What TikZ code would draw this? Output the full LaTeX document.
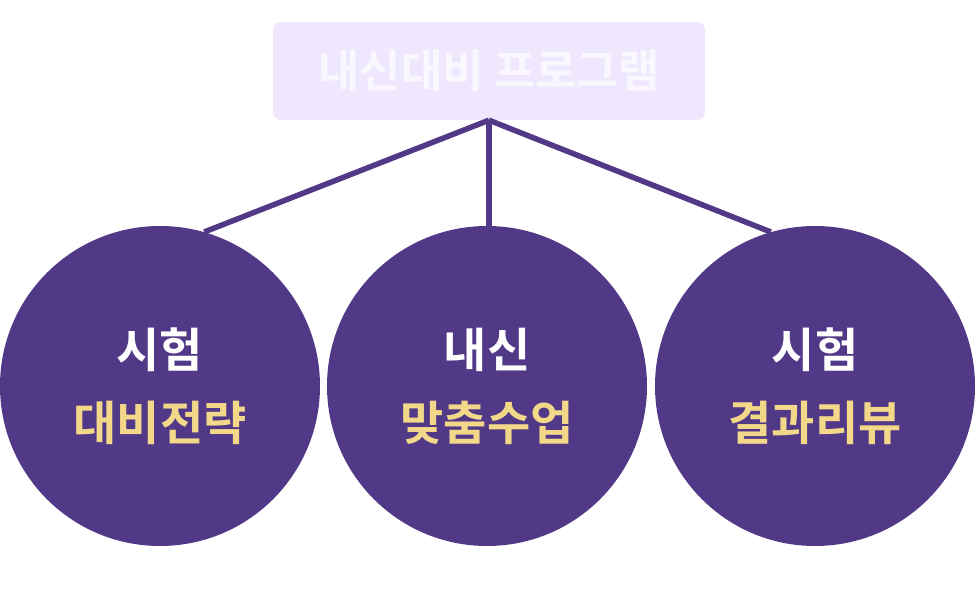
\documentclass[tikz,border=0pt]{standalone}
\usepackage{fontspec}
\setmainfont{Noto Sans CJK KR}[BoldFont={* Bold}]
\usepackage{tikz}

\definecolor{deeppurple}{HTML}{523987}
\definecolor{lavender}{HTML}{EFE7FD}
\definecolor{paleink}{HTML}{FAF8FF}
\definecolor{gold}{HTML}{F2D888}

\tikzset{
  topic/.style={circle, fill=deeppurple, minimum size=320pt, inner sep=0pt,
    align=center, font=\bfseries\fontsize{47}{73}\selectfont},
  branch/.style={deeppurple, line width=5.5pt}
}

\begin{document}
\begin{tikzpicture}[x=1pt, y=-1pt]
					\useasboundingbox (0,0) rectangle (975,594);
					
					% Top box
					\node[fill=lavender, rounded corners=8pt, minimum width=432pt, minimum height=98pt,
					  text=paleink, font=\bfseries\fontsize{45}{52}\selectfont] (prog) at (489,71) {내신대비 프로그램};
					
					% Circles
					\node[topic] (c1) at (160,386) {\textcolor{white}{시험}\\\textcolor{gold}{대비전략}};
					\node[topic] (c2) at (487,386) {\textcolor{white}{내신}\\\textcolor{gold}{맞춤수업}};
					\node[topic] (c3) at (815,386) {\textcolor{white}{시험}\\\textcolor{gold}{결과리뷰}};
					
					% Branches
					\draw[branch] (prog.south) -- (c1.74);
					\draw[branch] (prog.south) -- (prog.south |- c2.north);
					\draw[branch] (prog.south) -- (c3.106);
				\end{tikzpicture}
\end{document}
